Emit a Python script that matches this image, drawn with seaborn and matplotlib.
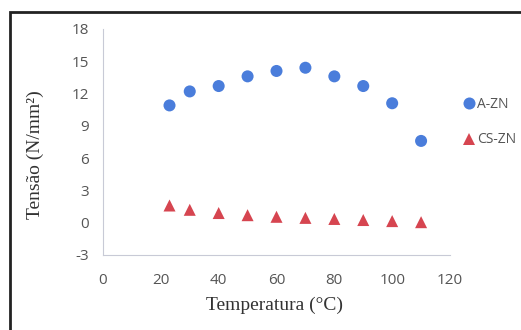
import seaborn as sns
import pandas as pd
import matplotlib.pyplot as plt
from matplotlib.patches import Rectangle

# data
temperatura = [23, 30, 40, 50, 60, 70, 80, 90, 100, 110]
tensao_a_zn = [10.9, 12.2, 12.7, 13.6, 14.1, 14.4, 13.6, 12.7, 11.1, 7.6]
tensao_cs_zn = [1.6, 1.2, 0.9, 0.7, 0.55, 0.45, 0.35, 0.25, 0.15, 0.05]
series_names = ["A-ZN", "CS-ZN"]
y_ticks = [-3, 0, 3, 6, 9, 12, 15, 18]
x_ticks = [0, 20, 40, 60, 80, 100, 120]

df = pd.concat([
    pd.DataFrame({"temp": temperatura, "tensao": tensao_a_zn, "serie": series_names[0]}),
    pd.DataFrame({"temp": temperatura, "tensao": tensao_cs_zn, "serie": series_names[1]}),
])

sns.set_style("white")
plt.rcParams["axes.unicode_minus"] = False
fig = plt.figure(figsize=(5.21, 3.30), dpi=100)
ax = fig.add_axes([103/521, 1 - 255/330, (450 - 103)/521, (255 - 29)/330])

palette = {"A-ZN": "#4a7ddb", "CS-ZN": "#d64550"}
markers = {"A-ZN": "o", "CS-ZN": "^"}
sns.scatterplot(data=df, x="temp", y="tensao", hue="serie", style="serie",
                palette=palette, markers=markers, s=75, linewidth=0, ax=ax)

ax.set_xlim(0, 120)
ax.set_ylim(-3, 18)
ax.set_xticks(x_ticks)
ax.set_yticks(y_ticks)
ax.tick_params(axis="both", colors="#c8cad6", labelcolor="#555555", labelsize=11,
               length=4, width=0.8, direction="out")
ax.tick_params(axis="y", pad=6)
ax.tick_params(axis="x", pad=9)
for lbl in ax.get_xticklabels() + ax.get_yticklabels():
    lbl.set_family("Open Sans")
for side in ["top", "right"]:
    ax.spines[side].set_visible(False)
for side in ["left", "bottom"]:
    ax.spines[side].set_color("#c8cad6")
    ax.spines[side].set_linewidth(0.8)

ax.set_xlabel("Temperatura (°C)", family="Liberation Serif", fontsize=14, color="#333333")
ax.set_ylabel("Tensão (N/mm²)", family="Liberation Serif", fontsize=14, color="#333333")
ax.xaxis.set_label_coords(275/521, 1 - 297/330, transform=fig.transFigure)
ax.yaxis.set_label_coords(44/521, 1 - 155/330, transform=fig.transFigure)

leg = ax.legend(loc="center left", bbox_to_anchor=(455/521, 1 - 122/330), bbox_transform=fig.transFigure,
                frameon=False, handletextpad=0.0, labelspacing=1.5,
                prop={"family": "Open Sans", "size": 10}, borderaxespad=0, handlelength=1.2)
for t in leg.get_texts():
    t.set_color("#555555")

# dark frame of the scanned figure
fig.patches.append(Rectangle((10/521, -0.1), 1.2, 1 - 12/330 + 0.1, transform=fig.transFigure,
                             fill=False, edgecolor="#222222", linewidth=2))

fig.savefig("out.png", dpi=100)
